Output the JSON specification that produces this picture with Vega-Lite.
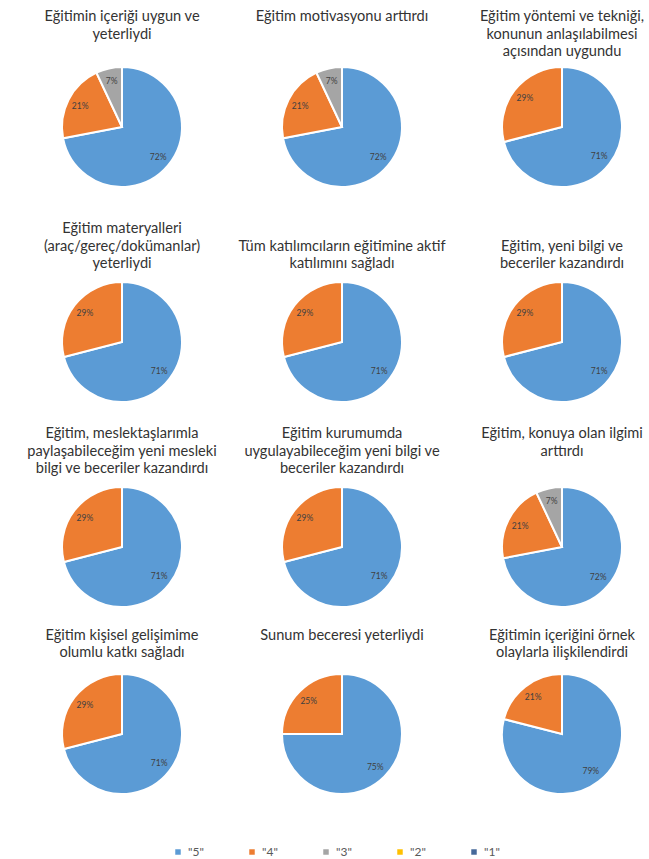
{
  "$schema": "https://vega.github.io/schema/vega-lite/v6.json",
  "background": "white",
  "padding": {"left": 12, "top": 9, "right": 0, "bottom": 0},
  "datasets": {
    "pies": [
      {"chart": 1, "title": "Eğitimin içeriği uygun ve|yeterliydi", "cat": "5", "pct": 0.72},
      {"chart": 1, "title": "Eğitimin içeriği uygun ve|yeterliydi", "cat": "4", "pct": 0.21},
      {"chart": 1, "title": "Eğitimin içeriği uygun ve|yeterliydi", "cat": "3", "pct": 0.07},
      {"chart": 2, "title": "Eğitim  motivasyonu arttırdı", "cat": "5", "pct": 0.72},
      {"chart": 2, "title": "Eğitim  motivasyonu arttırdı", "cat": "4", "pct": 0.21},
      {"chart": 2, "title": "Eğitim  motivasyonu arttırdı", "cat": "3", "pct": 0.07},
      {"chart": 3, "title": "Eğitim yöntemi ve tekniği,|konunun anlaşılabilmesi|açısından uygundu", "cat": "5", "pct": 0.71},
      {"chart": 3, "title": "Eğitim yöntemi ve tekniği,|konunun anlaşılabilmesi|açısından uygundu", "cat": "4", "pct": 0.29},
      {"chart": 4, "title": "Eğitim materyalleri|(araç/gereç/dokümanlar)|yeterliydi", "cat": "5", "pct": 0.71},
      {"chart": 4, "title": "Eğitim materyalleri|(araç/gereç/dokümanlar)|yeterliydi", "cat": "4", "pct": 0.29},
      {"chart": 5, "title": "Tüm katılımcıların eğitimine aktif|katılımını sağladı", "cat": "5", "pct": 0.71},
      {"chart": 5, "title": "Tüm katılımcıların eğitimine aktif|katılımını sağladı", "cat": "4", "pct": 0.29},
      {"chart": 6, "title": "Eğitim, yeni bilgi ve|beceriler kazandırdı", "cat": "5", "pct": 0.71},
      {"chart": 6, "title": "Eğitim, yeni bilgi ve|beceriler kazandırdı", "cat": "4", "pct": 0.29},
      {"chart": 7, "title": "Eğitim, meslektaşlarımla|paylaşabileceğim yeni mesleki|bilgi ve beceriler kazandırdı", "cat": "5", "pct": 0.71},
      {"chart": 7, "title": "Eğitim, meslektaşlarımla|paylaşabileceğim yeni mesleki|bilgi ve beceriler kazandırdı", "cat": "4", "pct": 0.29},
      {"chart": 8, "title": "Eğitim kurumumda|uygulayabileceğim yeni bilgi ve|beceriler kazandırdı", "cat": "5", "pct": 0.71},
      {"chart": 8, "title": "Eğitim kurumumda|uygulayabileceğim yeni bilgi ve|beceriler kazandırdı", "cat": "4", "pct": 0.29},
      {"chart": 9, "title": "Eğitim, konuya olan ilgimi|arttırdı", "cat": "5", "pct": 0.72},
      {"chart": 9, "title": "Eğitim, konuya olan ilgimi|arttırdı", "cat": "4", "pct": 0.21},
      {"chart": 9, "title": "Eğitim, konuya olan ilgimi|arttırdı", "cat": "3", "pct": 0.07},
      {"chart": 10, "title": "Eğitim kişisel gelişimime|olumlu katkı sağladı", "cat": "5", "pct": 0.71},
      {"chart": 10, "title": "Eğitim kişisel gelişimime|olumlu katkı sağladı", "cat": "4", "pct": 0.29},
      {"chart": 11, "title": "Sunum beceresi yeterliydi", "cat": "5", "pct": 0.75},
      {"chart": 11, "title": "Sunum beceresi yeterliydi", "cat": "4", "pct": 0.25},
      {"chart": 12, "title": "Eğitimin içeriğini örnek|olaylarla ilişkilendirdi", "cat": "5", "pct": 0.79},
      {"chart": 12, "title": "Eğitimin içeriğini örnek|olaylarla ilişkilendirdi", "cat": "4", "pct": 0.21}
    ]
  },
  "spacing": 20,
  "vconcat": [
    {
      "spacing": 30,
      "vconcat": [
        {
          "data": {"name": "pies"},
          "transform": [{"filter": {"field": "chart", "range": [1, 3]}}],
          "facet": {"column": {"field": "title", "type": "nominal", "sort": {"field": "chart", "op": "min"},
            "header": {"title": null, "labelExpr": "slice(split(datum.value + '||', '|'), 0, 3)", "labelPadding": -11}}},
          "spacing": {"column": 0},
          "spec": {
            "width": 220, "height": 124,
            "layer": [
              {"mark": {"type": "arc", "outerRadius": 60, "stroke": "white", "strokeWidth": 2},
               "encoding": {
                 "theta": {"field": "pct", "type": "quantitative", "stack": true},
                 "color": {"field": "cat", "type": "nominal",
                   "scale": {"domain": ["5", "4", "3", "2", "1"], "range": ["#5b9bd5", "#ed7d31", "#a5a5a5", "#ffc000", "#46699a"]},
                   "legend": {"labelExpr": "'\"' + datum.label + '\"'"}},
                 "order": {"field": "cat", "sort": "descending"}}},
              {"mark": {"type": "text", "radius": 47, "fontSize": 8.5, "font": "Lato", "color": "#404040"},
               "encoding": {
                 "theta": {"field": "pct", "type": "quantitative", "stack": true},
                 "detail": {"field": "cat"},
                 "order": {"field": "cat", "sort": "descending"},
                 "text": {"field": "pct", "type": "quantitative", "format": ".0%"}}}
            ]
          }
        },
        {
          "data": {"name": "pies"},
          "transform": [{"filter": {"field": "chart", "range": [4, 6]}}],
          "facet": {"column": {"field": "title", "type": "nominal", "sort": {"field": "chart", "op": "min"},
            "header": {"title": null, "labelExpr": "split(datum.value, '|')", "labelPadding": -8}}},
          "spacing": {"column": 0},
          "spec": {
            "width": 220, "height": 124,
            "layer": [
              {"mark": {"type": "arc", "outerRadius": 60, "stroke": "white", "strokeWidth": 2},
               "encoding": {
                 "theta": {"field": "pct", "type": "quantitative", "stack": true},
                 "color": {"field": "cat", "type": "nominal", "legend": {"labelExpr": "'\"' + datum.label + '\"'"}},
                 "order": {"field": "cat", "sort": "descending"}}},
              {"mark": {"type": "text", "radius": 47, "fontSize": 8.5, "font": "Lato", "color": "#404040"},
               "encoding": {
                 "theta": {"field": "pct", "type": "quantitative", "stack": true},
                 "detail": {"field": "cat"},
                 "order": {"field": "cat", "sort": "descending"},
                 "text": {"field": "pct", "type": "quantitative", "format": ".0%"}}}
            ]
          }
        }
      ]
    },
    {
      "spacing": 16,
      "vconcat": [
        {
          "data": {"name": "pies"},
          "transform": [{"filter": {"field": "chart", "range": [7, 9]}}],
          "facet": {"column": {"field": "title", "type": "nominal", "sort": {"field": "chart", "op": "min"},
            "header": {"title": null, "labelExpr": "slice(split(datum.value + '||', '|'), 0, 3)", "labelPadding": -8}}},
          "spacing": {"column": 0},
          "spec": {
            "width": 220, "height": 124,
            "layer": [
              {"mark": {"type": "arc", "outerRadius": 60, "stroke": "white", "strokeWidth": 2},
               "encoding": {
                 "theta": {"field": "pct", "type": "quantitative", "stack": true},
                 "color": {"field": "cat", "type": "nominal", "legend": {"labelExpr": "'\"' + datum.label + '\"'"}},
                 "order": {"field": "cat", "sort": "descending"}}},
              {"mark": {"type": "text", "radius": 47, "fontSize": 8.5, "font": "Lato", "color": "#404040"},
               "encoding": {
                 "theta": {"field": "pct", "type": "quantitative", "stack": true},
                 "detail": {"field": "cat"},
                 "order": {"field": "cat", "sort": "descending"},
                 "text": {"field": "pct", "type": "quantitative", "format": ".0%"}}}
            ]
          }
        },
        {
          "data": {"name": "pies"},
          "transform": [{"filter": {"field": "chart", "range": [10, 12]}}],
          "facet": {"column": {"field": "title", "type": "nominal", "sort": {"field": "chart", "op": "min"},
            "header": {"title": null, "labelExpr": "slice(split(datum.value + '|', '|'), 0, 2)", "labelPadding": -5}}},
          "spacing": {"column": 0},
          "spec": {
            "width": 220, "height": 124,
            "layer": [
              {"mark": {"type": "arc", "outerRadius": 60, "stroke": "white", "strokeWidth": 2},
               "encoding": {
                 "theta": {"field": "pct", "type": "quantitative", "stack": true},
                 "color": {"field": "cat", "type": "nominal", "legend": {"labelExpr": "'\"' + datum.label + '\"'"}},
                 "order": {"field": "cat", "sort": "descending"}}},
              {"mark": {"type": "text", "radius": 47, "fontSize": 8.5, "font": "Lato", "color": "#404040"},
               "encoding": {
                 "theta": {"field": "pct", "type": "quantitative", "stack": true},
                 "detail": {"field": "cat"},
                 "order": {"field": "cat", "sort": "descending"},
                 "text": {"field": "pct", "type": "quantitative", "format": ".0%"}}}
            ]
          }
        }
      ]
    }
  ],
  "config": {
    "view": {"stroke": null},
    "header": {"labelFont": "Lato", "labelFontSize": 14.6, "labelColor": "#333333", "labelLineHeight": 17.5,
      "labelBaseline": "bottom", "labelAnchor": "middle"},
    "legend": {"orient": "none", "legendX": 160, "legendY": 781, "direction": "horizontal", "title": null,
      "symbolType": "square", "symbolSize": 30, "symbolStrokeWidth": 0, "labelFont": "Lato", "labelFontSize": 12,
      "labelColor": "#595959", "columnPadding": 42, "gridAlign": "all"}
  }
}
